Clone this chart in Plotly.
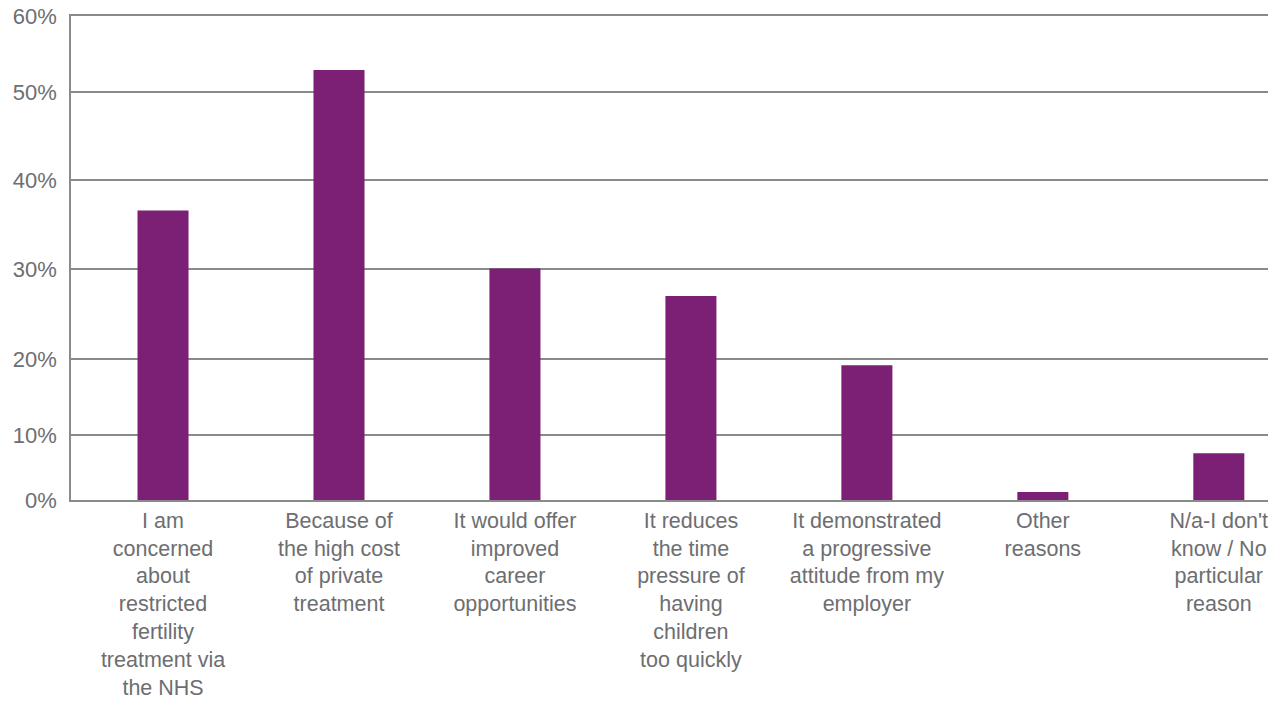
import plotly.graph_objects as go

categories = [
    "I am<br>concerned<br>about<br>restricted<br>fertility<br>treatment via<br>the NHS",
    "Because of<br>the high cost<br>of private<br>treatment",
    "It would offer<br>improved<br>career<br>opportunities",
    "It reduces<br>the time<br>pressure of<br>having<br>children<br>too quickly",
    "It demonstrated<br>a progressive<br>attitude from my<br>employer",
    "Other<br>reasons",
    "N/a-I don't<br>know / No<br>particular<br>reason",
]
values = [35.9, 53.3, 28.7, 25.3, 16.7, 1.0, 5.8]

# gridline positions as drawn in the source chart (uneven spacing)
tick_positions = [0, 8.06, 17.48, 28.64, 39.67, 50.58, 60]
tick_labels = ["0%", "10%", "20%", "30%", "40%", "50%", "60%"]

grey_text = "#6d6e71"
grid_col = "#8a8a8a"
bar_col = "#7b2074"

fig = go.Figure(
    go.Bar(
        x=list(range(len(categories))),
        y=values,
        width=0.29,
        marker=dict(color=bar_col, line=dict(width=0)),
        hoverinfo="skip",
    )
)

# the page adds an 8px body margin, so the figure is sized to fill the rest
fig.update_layout(
    width=1268,
    height=698,
    margin=dict(l=63, r=0, t=8, b=206),
    paper_bgcolor="white",
    plot_bgcolor="white",
    showlegend=False,
    font=dict(family="Liberation Sans, Arial, sans-serif", size=22, color=grey_text),
    xaxis=dict(
        tickmode="array",
        tickvals=list(range(len(categories))),
        ticktext=categories,
        range=[-0.523, 6.325],
        showgrid=False,
        zeroline=False,
        showline=True,
        mirror=True,
        linecolor=grid_col,
        linewidth=1.5,
        ticks="",
        tickangle=0,
        automargin=False,
        ticklabeloverflow="allow",
        tickfont=dict(size=21.5, color=grey_text),
    ),
    yaxis=dict(
        range=[0, 60],
        tickmode="array",
        tickvals=tick_positions,
        ticktext=tick_labels,
        showgrid=True,
        gridcolor=grid_col,
        gridwidth=1.5,
        zeroline=False,
        showline=True,
        linecolor=grid_col,
        linewidth=1.5,
        ticks="",
        automargin=False,
        ticklabeloverflow="allow",
        tickfont=dict(size=22, color=grey_text),
        ticklabelstandoff=8,
    ),
)

fig.write_html("out.html")
